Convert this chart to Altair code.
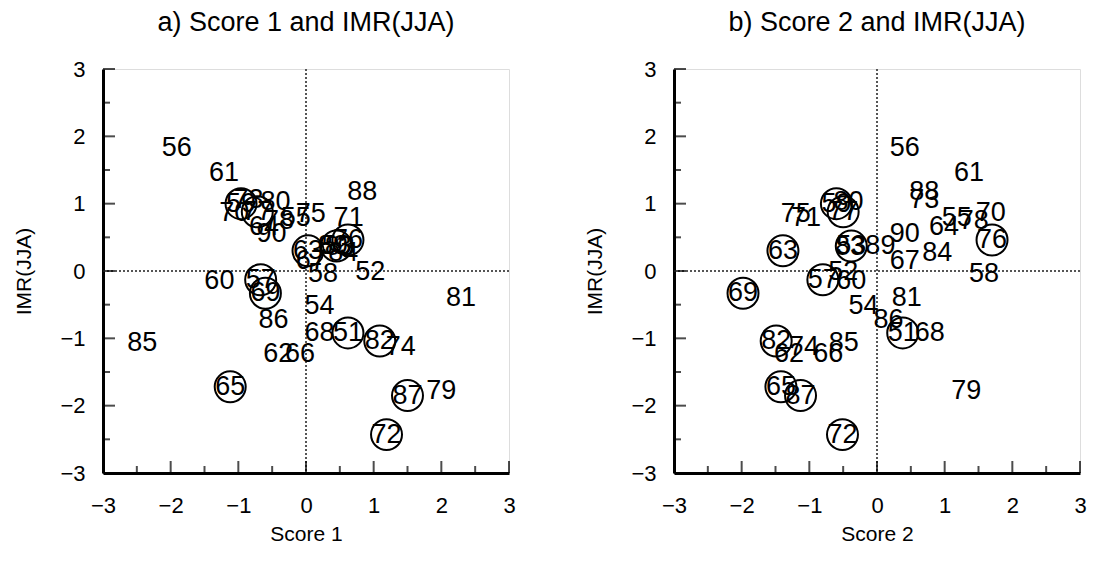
import altair as alt
import pandas as pd

years = list(range(51, 91))
score1 = [0.62, 0.95, 0.45, 0.20, -0.15, -1.91, -0.67, 0.25, -0.96, -1.28,
          -1.21, -0.41, 0.03, -0.62, -1.12, -0.09, 0.07, 0.20, -0.60, -1.06,
          0.63, 1.19, -0.85, 1.40, 0.07, 0.62, -0.72, -0.40, 2.00, -0.45,
          2.29, 1.09, 0.50, 0.55, -2.42, -0.48, 1.50, 0.83, 0.40, -0.51]
score2 = [0.38, -0.50, -0.38, -0.20, 1.18, 0.41, -0.80, 1.58, -0.60, -0.38,
          1.36, -1.30, -1.39, 0.99, -1.42, -0.72, 0.41, 0.78, -1.98, 1.68,
          -1.05, -0.51, 0.70, -1.08, -1.20, 1.70, -0.50, 1.43, 1.32, -0.42,
          0.44, -1.49, -0.40, 0.89, -0.49, 0.17, -1.13, 0.70, 0.05, 0.41]
imr = [-0.92, -0.02, 0.37, -0.52, 0.78, 1.82, -0.13, -0.05, 1.00, -0.15,
       1.45, -1.24, 0.30, 0.66, -1.72, -1.24, 0.15, -0.92, -0.33, 0.86,
       0.78, -2.43, 1.05, -1.13, 0.84, 0.46, 0.88, 0.75, -1.78, 1.03,
       -0.40, -1.04, 0.35, 0.27, -1.07, -0.73, -1.85, 1.18, 0.37, 0.55]
circled_years = [51, 53, 57, 59, 63, 65, 69, 72, 76, 77, 82, 87]

tick_values = [-3, -2, -1, 0, 1, 2, 3]
minor_values = [-2.5, -1.5, -0.5, 0.5, 1.5, 2.5]

df = pd.DataFrame({
    "year": [str(y) for y in years],
    "s1": score1,
    "s2": score2,
    "imr": imr,
    "circ": [y in circled_years for y in years],
})
major_df = pd.DataFrame({"v": tick_values})
minor_df = pd.DataFrame({"v": minor_values})

FONT = "Liberation Sans"
NUMFONT = "Liberation Sans Narrow, Liberation Sans"
W, H = 406, 404


def panel(xfield, title, xtitle):
    xs = alt.Scale(domain=[-3, 3], nice=False, zero=False)
    ys = alt.Scale(domain=[-3, 3], nice=False, zero=False)
    xaxis = alt.Axis(values=tick_values, format="d", ticks=False, grid=False,
                     domainWidth=3, domainColor="black", labelFontSize=22,
                     labelFont=FONT, labelColor="black", labelPadding=22,
                     title=xtitle, titleFontSize=21, titleFont=FONT,
                     titleFontWeight="normal", titleColor="black",
                     titlePadding=7, labelFlush=False)
    yaxis = alt.Axis(values=tick_values, format="d", ticks=False, grid=False,
                     domainWidth=3, domainColor="black", labelFontSize=22,
                     labelFont=FONT, labelColor="black", labelPadding=18,
                     title="IMR(JJA)", titleFontSize=21, titleFont=FONT,
                     titleFontWeight="normal", titleColor="black",
                     titlePadding=25, labelFlush=False)

    base = alt.Chart(df)
    pts = base.mark_text(font=NUMFONT, fontSize=27, color="black",
                         baseline="middle", align="center").encode(
        x=alt.X(f"{xfield}:Q", scale=xs, axis=xaxis),
        y=alt.Y("imr:Q", scale=ys, axis=yaxis),
        text="year:N",
    )
    circles = base.transform_filter("datum.circ").mark_point(
        shape="circle", filled=False, size=960, stroke="black", strokeWidth=2,
        opacity=1).encode(
        x=alt.X(f"{xfield}:Q", scale=xs),
        y=alt.Y("imr:Q", scale=ys),
    )
    vzero = alt.Chart(major_df).mark_rule(color="#555", strokeWidth=1,
                                          strokeDash=[2, 2]).encode(x=alt.datum(0))
    hzero = alt.Chart(major_df).mark_rule(color="#555", strokeWidth=1,
                                          strokeDash=[2, 2]).encode(y=alt.datum(0))
    xmaj = alt.Chart(major_df).mark_tick(orient="vertical", size=12, thickness=2,
                                         color="black", yOffset=-6).encode(
        x=alt.X("v:Q", scale=xs), y=alt.datum(-3))
    xmin = alt.Chart(minor_df).mark_tick(orient="vertical", size=7, thickness=2,
                                         color="black", yOffset=-3.5).encode(
        x=alt.X("v:Q", scale=xs), y=alt.datum(-3))
    ymaj = alt.Chart(major_df).mark_tick(orient="horizontal", size=12, thickness=2,
                                         color="black", xOffset=6).encode(
        y=alt.Y("v:Q", scale=ys), x=alt.datum(-3))
    ymin = alt.Chart(minor_df).mark_tick(orient="horizontal", size=7, thickness=2,
                                         color="black", xOffset=3.5).encode(
        y=alt.Y("v:Q", scale=ys), x=alt.datum(-3))
    return alt.layer(vzero, hzero, xmaj, xmin, ymaj, ymin, circles, pts).properties(
        width=W, height=H,
        title=alt.TitleParams(title, fontSize=27, font=FONT, fontWeight="normal",
                              color="black", anchor="middle", offset=21),
    )


left = panel("s1", "a) Score 1 and IMR(JJA)", "Score 1")
right = panel("s2", "b) Score 2 and IMR(JJA)", "Score 2")

chart = alt.hconcat(left, right, spacing=68).properties(
    padding={"left": 5, "top": 0, "right": 0, "bottom": 0}
).configure_view(stroke=None).configure(background="white")

chart.save("out.html", embed_options={"renderer": "svg", "actions": False})
